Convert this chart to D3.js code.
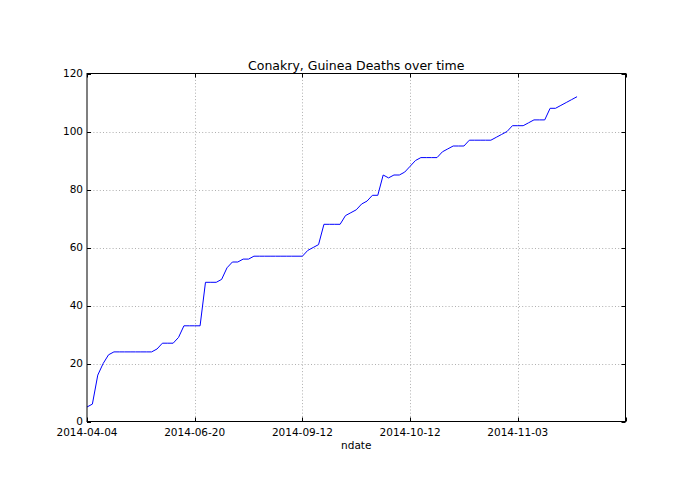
<!DOCTYPE html>
<html>
<head>
<meta charset="utf-8">
<script src="https://cdn.jsdelivr.net/npm/d3@7"></script>
<style>
  html, body { margin: 0; padding: 0; background: #fff; }
  text { font-family: "DejaVu Sans", sans-serif; fill: #000; }
</style>
</head>
<body>
<svg id="chart" width="695" height="494"></svg>
<script>
// Deaths per row (x axis is the row index, labelled with dates)
const deaths = [5, 6, 16, 20, 23, 24, 24, 24, 24, 24, 24, 24, 24, 25, 27, 27, 27, 29, 33, 33,
  33, 33, 48, 48, 48, 49, 53, 55, 55, 56, 56, 57, 57, 57, 57, 57, 57, 57, 57, 57,
  57, 59, 60, 61, 68, 68, 68, 68, 71, 72, 73, 75, 76, 78, 78, 85, 84, 85, 85, 86,
  88, 90, 91, 91, 91, 91, 93, 94, 95, 95, 95, 97, 97, 97, 97, 97, 98, 99, 100, 102,
  102, 102, 103, 104, 104, 104, 108, 108, 109, 110, 111, 112];
const xTickIndex = [0, 20, 40, 60, 80, 100];
const xTickLabels = ["2014-04-04", "2014-06-20", "2014-09-12", "2014-10-12", "2014-11-03", ""];
const yTicks = [0, 20, 40, 60, 80, 100, 120];
const title = "Conakry, Guinea Deaths over time";
const xLabel = "ndate";

const svg = d3.select("#chart");
const L = 87, R = 625.5, T = 73.5, B = 421.5;

const x = d3.scaleLinear().domain([0, 100]).range([L, R]);
const y = d3.scaleLinear().domain([0, 120]).range([B, T]);

svg.append("rect").attr("width", 695).attr("height", 494).attr("fill", "#fff");

// grid
const grid = svg.append("g").attr("stroke", "#9a9a9a").attr("stroke-width", 0.8)
  .attr("stroke-dasharray", "1,2.2");
grid.selectAll(".gx").data(xTickIndex.slice(1, -1)).enter().append("line")
  .attr("x1", d => Math.round(x(d)) + 0.5).attr("x2", d => Math.round(x(d)) + 0.5)
  .attr("y1", T).attr("y2", B);
grid.selectAll(".gy").data(yTicks.slice(1, -1)).enter().append("line")
  .attr("y1", d => Math.round(y(d)) + 0.5).attr("y2", d => Math.round(y(d)) + 0.5)
  .attr("x1", L).attr("x2", R);

// line
const line = d3.line().x((d, i) => x(i)).y(d => y(d));
svg.append("path").datum(deaths)
  .attr("fill", "none").attr("stroke", "#0000ff").attr("stroke-width", 1)
  .attr("d", line);

// ticks (inward, all sides)
const tk = svg.append("g").attr("stroke", "#000").attr("stroke-width", 1);
xTickIndex.forEach(d => {
  const px = Math.round(x(d)) + 0.5;
  tk.append("line").attr("x1", px).attr("x2", px).attr("y1", B).attr("y2", B - 4);
  tk.append("line").attr("x1", px).attr("x2", px).attr("y1", T).attr("y2", T + 4);
});
yTicks.forEach(d => {
  const py = Math.round(y(d)) + 0.5;
  tk.append("line").attr("x1", L).attr("x2", L + 4).attr("y1", py).attr("y2", py);
  tk.append("line").attr("x1", R).attr("x2", R - 4).attr("y1", py).attr("y2", py);
});

// frame
svg.append("rect").attr("x", L).attr("y", T).attr("width", R - L).attr("height", B - T)
  .attr("fill", "none").attr("stroke", "#000").attr("stroke-width", 1);

// tick labels
svg.append("g").selectAll("text").data(xTickIndex).enter().append("text")
  .attr("x", d => x(d)).attr("y", B + 14)
  .attr("text-anchor", "middle").attr("font-size", 10.5)
  .text((d, i) => xTickLabels[i]);
svg.append("g").selectAll("text").data(yTicks).enter().append("text")
  .attr("x", L - 4).attr("y", d => y(d) + 3.5)
  .attr("text-anchor", "end").attr("font-size", 10.5)
  .text(d => d);

// title and label
svg.append("text").attr("x", (L + R) / 2).attr("y", 70)
  .attr("text-anchor", "middle").attr("font-size", 12.5).text(title);
svg.append("text").attr("x", (L + R) / 2).attr("y", 449)
  .attr("text-anchor", "middle").attr("font-size", 10.5).text(xLabel);
</script>
</body>
</html>
